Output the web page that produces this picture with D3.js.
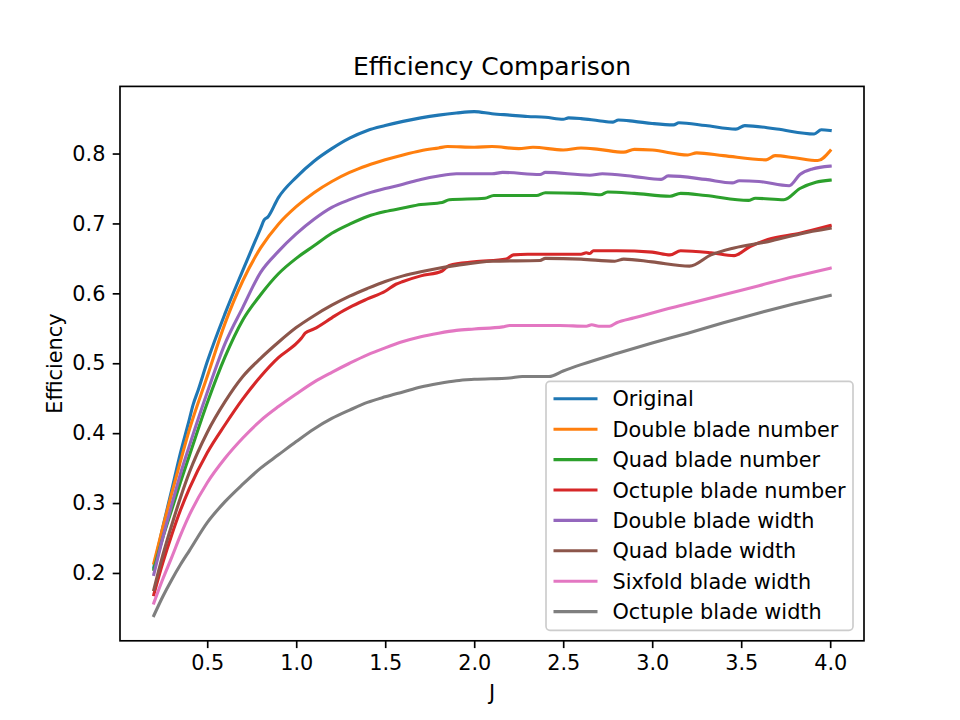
<!DOCTYPE html>
<html>
<head>
<meta charset="utf-8">
<script src="https://cdn.jsdelivr.net/npm/d3@7"></script>
<style>
  body { margin: 0; background: #fff; }
  svg { font-family: "DejaVu Sans", sans-serif; }
</style>
</head>
<body>
<svg id="chart" width="960" height="720"></svg>
<script>
// [J, efficiency] pairs
const original = [[0.2,0.208],[0.25,0.265],[0.3,0.318],[0.35,0.372],[0.4,0.42],[0.42,0.44],[0.45,0.462],[0.5,0.502],[0.6,0.571],[0.7,0.633],[0.8,0.693],[0.82,0.705],[0.84,0.709],[0.9,0.737],[1.0,0.766],[1.1,0.789],[1.2,0.807],[1.3,0.822],[1.4,0.833],[1.5,0.840],[1.6,0.846],[1.7,0.851],[1.8,0.855],[1.9,0.858],[2.0,0.860],[2.1,0.857],[2.2,0.855],[2.3,0.853],[2.4,0.852],[2.5,0.849],[2.53,0.851],[2.6,0.850],[2.7,0.847],[2.78,0.845],[2.81,0.848],[2.9,0.846],[3.0,0.843],[3.12,0.841],[3.15,0.844],[3.3,0.840],[3.47,0.835],[3.52,0.840],[3.7,0.835],[3.91,0.828],[3.95,0.834],[4.0,0.833]];
const doubleNumber = [[0.2,0.214],[0.25,0.265],[0.3,0.313],[0.35,0.36],[0.4,0.405],[0.5,0.481],[0.6,0.557],[0.7,0.618],[0.8,0.665],[0.9,0.699],[1.0,0.724],[1.1,0.744],[1.2,0.760],[1.3,0.773],[1.4,0.783],[1.5,0.791],[1.6,0.798],[1.7,0.804],[1.8,0.808],[1.85,0.810],[2.0,0.809],[2.1,0.810],[2.25,0.807],[2.33,0.809],[2.5,0.805],[2.6,0.808],[2.7,0.806],[2.84,0.802],[2.9,0.806],[3.0,0.805],[3.2,0.798],[3.25,0.801],[3.4,0.797],[3.64,0.791],[3.69,0.797],[3.8,0.794],[3.93,0.790],[4.0,0.804]];
const quadNumber = [[0.2,0.205],[0.25,0.25],[0.3,0.29],[0.35,0.33],[0.4,0.368],[0.5,0.443],[0.6,0.509],[0.7,0.562],[0.8,0.598],[0.9,0.628],[1.0,0.65],[1.1,0.668],[1.2,0.686],[1.3,0.699],[1.4,0.71],[1.5,0.717],[1.6,0.722],[1.7,0.727],[1.82,0.730],[1.86,0.734],[2.06,0.736],[2.11,0.740],[2.35,0.740],[2.4,0.744],[2.6,0.743],[2.71,0.741],[2.75,0.745],[2.9,0.743],[3.1,0.739],[3.16,0.743],[3.3,0.740],[3.54,0.733],[3.58,0.736],[3.74,0.734],[3.83,0.750],[3.92,0.759],[4.0,0.762]];
const octupleNumber = [[0.2,0.169],[0.25,0.214],[0.3,0.254],[0.35,0.29],[0.4,0.321],[0.5,0.372],[0.6,0.412],[0.7,0.449],[0.8,0.481],[0.9,0.508],[1.0,0.528],[1.03,0.536],[1.05,0.543],[1.1,0.549],[1.2,0.565],[1.25,0.573],[1.3,0.58],[1.4,0.592],[1.5,0.603],[1.56,0.613],[1.6,0.617],[1.7,0.625],[1.82,0.632],[1.86,0.640],[2.0,0.645],[2.18,0.649],[2.22,0.655],[2.3,0.656],[2.6,0.656],[2.63,0.658],[2.65,0.657],[2.67,0.661],[2.8,0.661],[3.0,0.659],[3.1,0.655],[3.16,0.661],[3.33,0.658],[3.46,0.654],[3.55,0.667],[3.65,0.677],[3.83,0.686],[4.0,0.697]];
const doubleWidth = [[0.2,0.198],[0.25,0.25],[0.3,0.297],[0.35,0.342],[0.4,0.382],[0.5,0.458],[0.6,0.528],[0.7,0.58],[0.8,0.63],[0.9,0.66],[1.0,0.685],[1.1,0.706],[1.2,0.723],[1.3,0.734],[1.4,0.743],[1.5,0.750],[1.6,0.756],[1.7,0.763],[1.8,0.768],[1.9,0.771],[2.1,0.771],[2.16,0.773],[2.37,0.770],[2.4,0.773],[2.65,0.769],[2.72,0.771],[2.9,0.767],[3.05,0.763],[3.09,0.768],[3.3,0.763],[3.45,0.758],[3.49,0.761],[3.6,0.760],[3.77,0.754],[3.83,0.770],[3.9,0.778],[4.0,0.782]];
const quadWidth = [[0.2,0.176],[0.25,0.225],[0.3,0.268],[0.35,0.308],[0.4,0.344],[0.5,0.401],[0.6,0.445],[0.7,0.481],[0.8,0.507],[0.9,0.53],[1.0,0.551],[1.1,0.568],[1.2,0.583],[1.3,0.596],[1.4,0.607],[1.5,0.617],[1.6,0.625],[1.7,0.631],[1.8,0.636],[1.9,0.640],[2.1,0.646],[2.37,0.647],[2.4,0.650],[2.6,0.649],[2.79,0.646],[2.84,0.649],[3.0,0.645],[3.21,0.639],[3.33,0.655],[3.46,0.665],[3.65,0.674],[3.83,0.685],[4.0,0.693]];
const sixfoldWidth = [[0.2,0.157],[0.25,0.191],[0.3,0.222],[0.35,0.254],[0.4,0.283],[0.5,0.329],[0.6,0.364],[0.7,0.393],[0.8,0.418],[0.9,0.438],[1.0,0.456],[1.1,0.473],[1.2,0.487],[1.3,0.5],[1.4,0.512],[1.5,0.522],[1.6,0.531],[1.7,0.538],[1.8,0.543],[1.9,0.547],[2.0,0.549],[2.16,0.552],[2.2,0.554],[2.48,0.554],[2.63,0.553],[2.66,0.555],[2.7,0.553],[2.76,0.553],[2.8,0.558],[2.9,0.565],[3.0,0.572],[3.2,0.585],[3.4,0.598],[3.6,0.611],[3.8,0.624],[4.0,0.636]];
const octupleWidth = [[0.2,0.139],[0.25,0.166],[0.3,0.19],[0.35,0.212],[0.4,0.232],[0.5,0.272],[0.6,0.302],[0.7,0.327],[0.8,0.35],[0.9,0.369],[1.0,0.388],[1.1,0.406],[1.2,0.421],[1.3,0.433],[1.4,0.444],[1.5,0.452],[1.6,0.459],[1.7,0.466],[1.8,0.471],[1.9,0.475],[2.0,0.477],[2.2,0.479],[2.27,0.481],[2.42,0.481],[2.5,0.489],[2.6,0.498],[2.8,0.514],[3.0,0.529],[3.2,0.543],[3.4,0.558],[3.6,0.572],[3.8,0.585],[4.0,0.597]];

const seriesNames = ["Original", "Double blade number", "Quad blade number", "Octuple blade number",
                     "Double blade width", "Quad blade width", "Sixfold blade width", "Octuple blade width"];
const seriesData = [original, doubleNumber, quadNumber, octupleNumber, doubleWidth, quadWidth, sixfoldWidth, octupleWidth];
const colors = ["#1f77b4", "#ff7f0e", "#2ca02c", "#d62728", "#9467bd", "#8c564b", "#e377c2", "#7f7f7f"];
const xTicks = [0.5, 1.0, 1.5, 2.0, 2.5, 3.0, 3.5, 4.0];
const yTicks = [0.2, 0.3, 0.4, 0.5, 0.6, 0.7, 0.8];

const margin = { top: 86.4, right: 96, bottom: 79.2, left: 120 };
const width = 960 - margin.left - margin.right;
const height = 720 - margin.top - margin.bottom;
const fs = 20.8; // 10pt at 150 dpi

const svg = d3.select("#chart");
const g = svg.append("g").attr("transform", `translate(${margin.left},${margin.top})`);

// 5% padding like matplotlib
const allX = seriesData.flat().map(d => d[0]);
const allY = seriesData.flat().map(d => d[1]);
const [x0, x1] = d3.extent(allX);
const [y0, y1] = d3.extent(allY);
const x = d3.scaleLinear().domain([x0 - (x1 - x0) * 0.05, x1 + (x1 - x0) * 0.05]).range([0, width]);
const y = d3.scaleLinear().domain([y0 - (y1 - y0) * 0.05, y1 + (y1 - y0) * 0.05]).range([height, 0]);

const line = d3.line()
    .x(d => x(d[0]))
    .y(d => y(d[1]))
    .curve(d3.curveMonotoneX);

g.selectAll(".series")
    .data(seriesData)
    .enter()
    .append("path")
    .attr("class", "series")
    .attr("d", d => line(d))
    .attr("fill", "none")
    .attr("stroke", (d, i) => colors[i])
    .attr("stroke-width", 3.1)
    .attr("stroke-linejoin", "round")
    .attr("stroke-linecap", "square");

// axes
const xAxis = g.append("g")
    .attr("transform", `translate(0,${height})`)
    .call(d3.axisBottom(x).tickValues(xTicks).tickFormat(d3.format(".1f")).tickSizeOuter(0).tickSize(7.3).tickPadding(7.3));
const yAxis = g.append("g")
    .call(d3.axisLeft(y).tickValues(yTicks).tickFormat(d3.format(".1f")).tickSizeOuter(0).tickSize(7.3).tickPadding(7.3));

[xAxis, yAxis].forEach(a => {
    a.select(".domain").remove();
    a.selectAll(".tick line").attr("stroke", "#000").attr("stroke-width", 1.67);
    a.selectAll(".tick text").attr("font-size", fs).attr("fill", "#000")
        .attr("font-family", "DejaVu Sans, sans-serif");
});

g.append("rect")
    .attr("width", width)
    .attr("height", height)
    .attr("fill", "none")
    .attr("stroke", "#000")
    .attr("stroke-width", 1.67);

// title and labels
svg.append("text")
    .attr("x", margin.left + width / 2)
    .attr("y", 75)
    .attr("text-anchor", "middle")
    .attr("font-size", 25)
    .text("Efficiency Comparison");

svg.append("text")
    .attr("x", margin.left + width / 2)
    .attr("y", 700)
    .attr("text-anchor", "middle")
    .attr("font-size", fs)
    .text("J");

svg.append("text")
    .attr("transform", `translate(62,${margin.top + height / 2}) rotate(-90)`)
    .attr("text-anchor", "middle")
    .attr("font-size", fs)
    .text("Efficiency");

// legend, lower right
const legW = 307, legH = 249;
const legend = g.append("g")
    .attr("transform", `translate(${width - 11 - legW},${height - 10.5 - legH})`);

legend.append("rect")
    .attr("width", legW)
    .attr("height", legH)
    .attr("rx", 4)
    .attr("fill", "#fff")
    .attr("fill-opacity", 0.8)
    .attr("stroke", "#ccc")
    .attr("stroke-width", 1.67);

const rowH = 30.4;
const rows = legend.selectAll(".leg-row")
    .data(seriesNames)
    .enter()
    .append("g")
    .attr("class", "leg-row")
    .attr("transform", (d, i) => `translate(0,${17.5 + i * rowH})`);

rows.append("line")
    .attr("x1", 7.5).attr("x2", 51.5)
    .attr("stroke", (d, i) => colors[i])
    .attr("stroke-width", 3.1);

rows.append("text")
    .attr("x", 66.5)
    .attr("dy", "0.36em")
    .attr("font-size", fs)
    .text(d => d);
</script>
</body>
</html>
